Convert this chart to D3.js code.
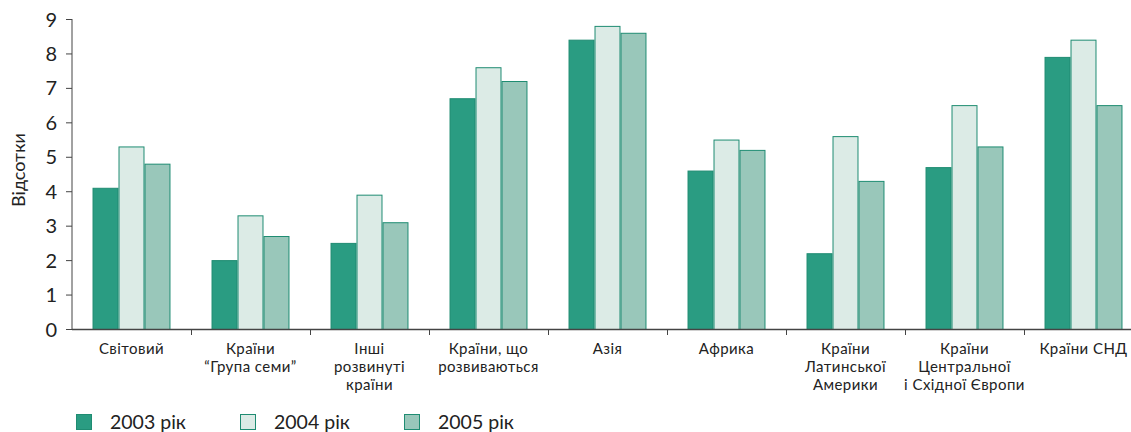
<!DOCTYPE html>
<html><head><meta charset="utf-8">
<script src="https://cdn.jsdelivr.net/npm/d3@7"></script>
<style>body{margin:0;background:#fff}svg{display:block}text{font-family:"Lato","Open Sans",sans-serif;fill:#222}</style>
</head><body><svg id="c" width="1131" height="432"></svg>
<script>
const categories = [["Світовий"],["Країни","“Група семи”"],["Інші","розвинуті","країни"],["Країни, що","розвиваються"],["Азія"],["Африка"],["Країни","Латинської","Америки"],["Країни","Центральної","і Східної Європи"],["Країни СНД"]];
const seriesNames = ["2003 рік","2004 рік","2005 рік"];
const v2003 = [4.1,2.0,2.5,6.7,8.4,4.6,2.2,4.7,7.9];
const v2004 = [5.3,3.3,3.9,7.6,8.8,5.5,5.6,6.5,8.4];
const v2005 = [4.8,2.7,3.1,7.2,8.6,5.2,4.3,5.3,6.5];
const yTicks = [0,1,2,3,4,5,6,7,8,9];
const fills = ["#2a9c82","#dcebe6","#99c7ba"];
const stroke = "#1f8c72";

const svg = d3.select("#c");
const x0 = 72, x1 = 72 + 119*9, yTop = 19, yBot = 329;
const idx = d3.range(categories.length);
const x = d3.scaleBand().domain(idx).range([x0,x1]).paddingInner(0).paddingOuter(0);
const xs = d3.scaleBand().domain([0,1,2]).range([0,x.bandwidth()]).paddingOuter(0.79).paddingInner(0);
const y = d3.scaleLinear().domain([0,9]).range([yBot,yTop]);
const series = [v2003,v2004,v2005];

const g = svg.append("g");
series.forEach((vals,s)=>{
  g.selectAll(null).data(vals).enter().append("rect")
    .attr("x",(d,i)=>x(i)+xs(s)+0.5)
    .attr("width",xs.bandwidth()-1)
    .attr("y",d=>y(d)+0.5)
    .attr("height",d=>y(0)-y(d))
    .attr("fill",fills[s]).attr("stroke",stroke).attr("stroke-width",1);
});

// y axis
const ya = svg.append("g").attr("transform",`translate(${x0},0)`)
  .call(d3.axisLeft(y).tickValues(yTicks).tickSize(6).tickPadding(9).tickFormat(d3.format("d")));
ya.select(".domain").attr("stroke","#444").attr("d",`M0,${yTop}V${yBot}`);
ya.selectAll(".tick line").attr("stroke","#444");
ya.selectAll(".tick text").style("font-size","20px").attr("fill","#222").attr("dy","0.35em");

// x axis
const xa = svg.append("g").attr("transform",`translate(0,${yBot})`);
xa.append("line").attr("x1",x0).attr("x2",1131).attr("y1",0.5).attr("y2",0.5).attr("stroke","#444").attr("stroke-width",1.5);
xa.selectAll(null).data(idx.slice(1)).enter().append("line")
  .attr("x1",d=>Math.round(x(d))+0.5).attr("x2",d=>Math.round(x(d))+0.5)
  .attr("y1",0).attr("y2",6).attr("stroke","#444");
categories.forEach((lines,i)=>{
  lines.forEach((t,j)=>{
    xa.append("text").attr("text-anchor","middle").style("font-size","15px").style("letter-spacing","0.45px")
      .attr("x",x(i)+x.bandwidth()/2).attr("y",25+j*18).text(t);
  });
});

// y title
svg.append("text").attr("transform","translate(25,170) rotate(-90)")
  .attr("text-anchor","middle").style("font-size","18px").text("Відсотки");

// legend
const legX = [76,240,404];
const lg = svg.selectAll(".lg").data(seriesNames).enter().append("g")
  .attr("transform",(d,i)=>`translate(${legX[i]},414)`);
lg.append("rect").attr("x",0.5).attr("y",0.5).attr("width",15).attr("height",15)
  .attr("fill",(d,i)=>fills[i]).attr("stroke",stroke);
lg.append("text").attr("x",34).attr("y",15).style("font-size","19.5px").text(d=>d);
</script></body></html>
